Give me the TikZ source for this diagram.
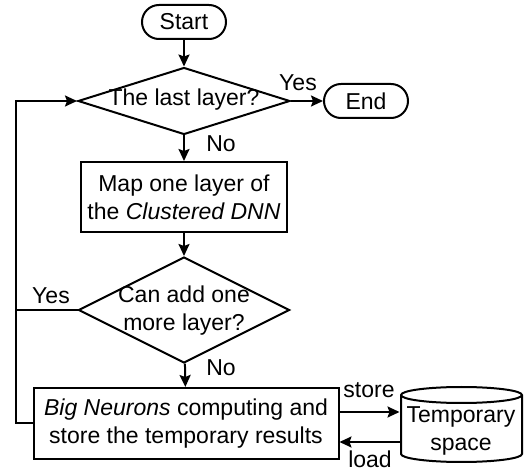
\documentclass[tikz,border=0pt]{standalone}
\usepackage{fontspec}
\setmainfont{Liberation Sans}
\usetikzlibrary{arrows.meta,shapes.geometric,calc}
\begin{document}
\begin{tikzpicture}[x=1pt,y=-1pt,line width=2pt,
  every node/.style={font=\fontsize{23}{28}\selectfont},
  term/.style={draw,rounded corners=17pt,minimum width=84pt,minimum height=34pt,inner sep=0pt},
  proc/.style={draw,align=center,inner sep=0pt},
  decision/.style={draw,diamond,inner sep=0pt},
  lbl/.style={inner sep=0pt,align=center},
  flow/.style={-{Stealth[length=12pt,width=11pt,inset=2pt]}}]
\useasboundingbox (0,0) rectangle (531,473);

% main column
\node[term] (start) at (184,22) {Start};
\node[decision,minimum width=212pt,minimum height=67pt] (last) at (184,101) {};
\node[lbl] (lastq) at (184,100) {The last layer?};
\node[term] (end) at (366,101) {End};
\node[proc,minimum width=206pt,minimum height=70pt] (map) at (184,197) {Map one layer of\\the \textit{Clustered DNN}};
\node[decision,minimum width=211pt,minimum height=106pt] (more) at (184,310) {};
\node[lbl] (moreq) at (184,311) {Can add one\\more layer?};
\node[proc,minimum width=305pt,minimum height=71pt] (big) at (186,423.5) {\textit{Big Neurons} computing and\\store the temporary results};

% storage cylinder
\node[minimum width=121pt,minimum height=75pt,inner sep=0pt] (temp) at (461,424.5) {};
\draw (401,395) arc[start angle=180,end angle=0,x radius=60.5pt,y radius=8pt]
  -- (522,454) arc[start angle=0,end angle=-180,x radius=60.5pt,y radius=8pt] -- cycle;
\draw (401,395) arc[start angle=180,end angle=360,x radius=60.5pt,y radius=8pt];
\node[lbl] (tempq) at (461,431) {Temporary\\space};

% connectors
\coordinate (loopx) at (16,0);
\draw[flow] (start) -- (last);
\draw[flow] (last) -- (end);
\draw[flow] (last) -- (map);
\draw[flow] (map) -- (more);
\draw[flow] (more) -- (big);
\draw[flow] (big.west) -- (big.west -| loopx) |- (last.west);
\draw (more.west) -- (more.west -| loopx);
\coordinate (st) at ([yshift=11.5pt]big.east);
\coordinate (ld) at ([yshift=-18.5pt]big.east);
\draw[flow] (st) -- (st -| temp.west);
\draw[flow] (ld -| temp.west) -- (ld);

% branch labels
\node[lbl] (yes1) at (298,83) {Yes};
\node[lbl] (no1) at (221,144) {No};
\node[lbl] (yes2) at (51,296) {Yes};
\node[lbl] (no2) at (221,368) {No};
\node[lbl] (storel) at (369,390) {store};
\node[lbl] (loadl) at (370,459) {load};
\end{tikzpicture}
\end{document}
